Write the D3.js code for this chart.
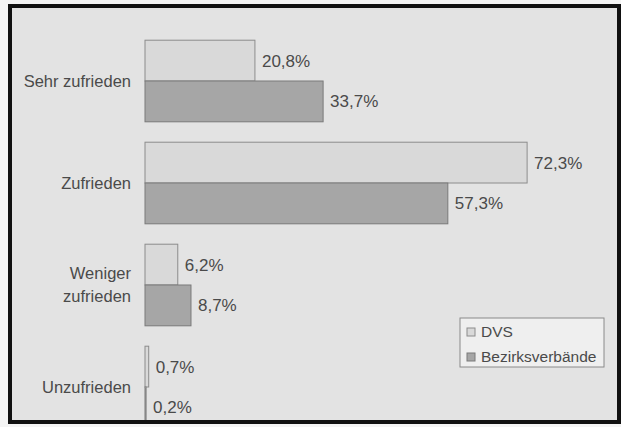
<!DOCTYPE html>
<html><head><meta charset="utf-8">
<script src="https://cdn.jsdelivr.net/npm/d3@7"></script>
<style>body{margin:0;background:#fff}svg{display:block}</style>
</head><body>
<script>
const categories = ["Sehr zufrieden", "Zufrieden", "Weniger zufrieden", "Unzufrieden"];
const categoryLines = [["Sehr zufrieden"], ["Zufrieden"], ["Weniger", "zufrieden"], ["Unzufrieden"]];
const seriesNames = ["DVS", "Bezirksverbände"];
const dvs = [20.8, 72.3, 6.2, 0.7];
const bezirk = [33.7, 57.3, 8.7, 0.2];
const valueLabelsDvs = ["20,8%", "72,3%", "6,2%", "0,7%"];
const valueLabelsBez = ["33,7%", "57,3%", "8,7%", "0,2%"];

const W = 621, H = 427;
const colors = {DVS: "#d9d9d9", "Bezirksverbände": "#a6a6a6"};
const strokes = {DVS: "#8c8c8c", "Bezirksverbände": "#7a7a7a"};

const svg = d3.select("body").append("svg").attr("width", W).attr("height", H);
svg.append("rect").attr("width", W).attr("height", H).attr("fill", "#f4f4f4");
svg.append("rect").attr("x", 10).attr("y", 6).attr("width", 609).attr("height", 416).attr("fill", "#e3e3e3");
svg.append("defs").append("clipPath").attr("id", "clip")
  .append("rect").attr("x", 12).attr("y", 8).attr("width", 605).attr("height", 412);

const y = d3.scaleBand().domain(categories).range([30, 438]).paddingInner(0.2).paddingOuter(0.1);
const ySub = d3.scaleBand().domain(seriesNames).range([0, y.bandwidth()]);
const x = d3.scaleLinear().domain([0, 100]).range([145, 673.5]);

const g = svg.append("g").attr("clip-path", "url(#clip)");
const font = "Liberation Sans, Arial, sans-serif";
const txt = "#4a4a4a";

const rows = categories.map((c, i) => ({c, i, vals: [
  {s: "DVS", v: dvs[i], lab: valueLabelsDvs[i]},
  {s: "Bezirksverbände", v: bezirk[i], lab: valueLabelsBez[i]}]}));

const grp = g.selectAll("g.cat").data(rows).join("g")
  .attr("transform", d => `translate(0,${y(d.c)})`);
grp.selectAll("rect").data(d => d.vals).join("rect")
  .attr("x", x(0)).attr("y", d => ySub(d.s))
  .attr("width", d => x(d.v) - x(0)).attr("height", ySub.bandwidth())
  .attr("fill", d => colors[d.s]).attr("stroke", d => strokes[d.s]).attr("stroke-width", 1);
grp.selectAll("text.val").data(d => d.vals).join("text").attr("class", "val")
  .attr("x", d => x(d.v) + 7).attr("y", d => ySub(d.s) + ySub.bandwidth() / 2)
  .attr("dy", "0.35em").attr("font-family", font).attr("font-size", 17).attr("fill", txt)
  .text(d => d.lab);

rows.forEach(r => {
  const lines = categoryLines[r.i];
  const cy = y(r.c) + y.bandwidth() / 2;
  const t = g.append("text").attr("x", 131).attr("text-anchor", "end")
    .attr("font-family", font).attr("font-size", 16.5).attr("fill", txt);
  lines.forEach((l, k) => {
    t.append("tspan").attr("x", 131)
      .attr("y", cy + (k - (lines.length - 1) / 2) * 23).attr("dy", "0.35em").text(l);
  });
});

const lg = svg.append("g").attr("transform", "translate(460,318)");
lg.append("rect").attr("width", 144).attr("height", 49).attr("fill", "#efefef").attr("stroke", "#8a8a8a");
seriesNames.forEach((s, k) => {
  lg.append("rect").attr("x", 7).attr("y", 10 + k * 25).attr("width", 8).attr("height", 8)
    .attr("fill", colors[s]).attr("stroke", strokes[s]);
  lg.append("text").attr("x", 21).attr("y", 14 + k * 25).attr("dy", "0.35em")
    .attr("font-family", font).attr("font-size", 15.5).attr("fill", txt).text(s);
});

svg.append("rect").attr("x", 10).attr("y", 6).attr("width", 609).attr("height", 416)
  .attr("fill", "none").attr("stroke", "#111").attr("stroke-width", 4);
</script>
</body></html>
